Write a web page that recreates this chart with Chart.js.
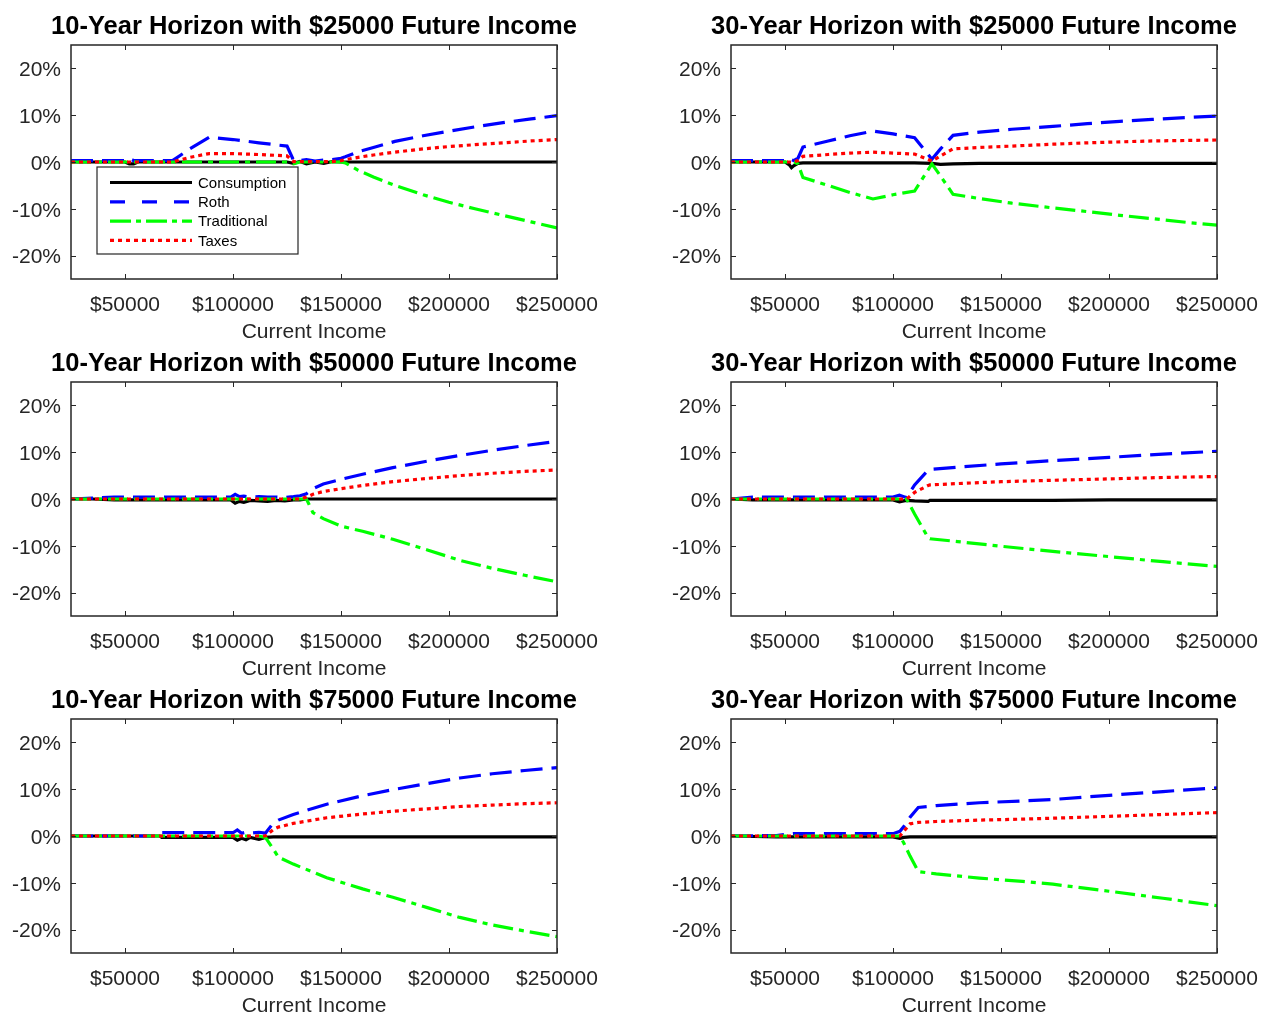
<!DOCTYPE html>
<html>
<head>
<meta charset="utf-8">
<script src="https://cdn.jsdelivr.net/npm/chart.js@4.4.0/dist/chart.umd.min.js"></script>
<style>
  html, body { margin: 0; padding: 0; background: #fff; overflow: hidden; }
  #wrap { position: relative; width: 1262px; height: 1017px; }
  #wrap canvas { position: absolute; }
</style>
</head>
<body>
<div id="wrap"></div>
<script>
// ---- data (percent change vs. income) ----
const xTicks = [50000, 100000, 150000, 200000, 250000];
const yTicks = [-20, -10, 0, 10, 20];
const seriesNames = ['Consumption', 'Roth', 'Traditional', 'Taxes'];

// 10-Year Horizon, $25000 future income
const p1Income      = [25000, 40000, 50000, 52000, 54000, 56000, 65000, 72000, 80000, 89000, 100000, 112000, 125000, 128000, 131000, 134000, 138000, 142000, 146000, 150000, 152000, 158000, 165000, 175000, 188000, 200000, 212000, 225000, 238000, 250000];
const p1Consumption = [0, 0, 0, -0.4, -0.4, 0, 0, 0, 0, 0, 0, 0, 0, -0.3, 0.1, -0.4, 0, -0.3, 0.1, 0, 0, 0, 0, 0, 0, 0, 0, 0, 0, 0];
const p1Roth        = [0.3, 0.3, 0.3, 0.8, 0.3, 0.3, 0.3, 0.3, 2.8, 5.3, 4.8, 4.1, 3.4, 0.4, 0.3, 0.5, 0.2, 0.4, 0.5, 0.8, 1.1, 2.2, 3.1, 4.4, 5.6, 6.6, 7.5, 8.4, 9.2, 9.9];
const p1Traditional = [0, 0, 0, 0, 0, 0, 0, 0, 0, 0, 0, 0, 0, -0.4, 0, 0, 0, 0, 0, 0, -0.2, -1.8, -3.2, -5.0, -7.0, -8.6, -10.0, -11.4, -12.8, -14.1];
const p1Taxes       = [0, 0, 0, 0, 0, 0, 0, 0, 1.0, 1.8, 1.8, 1.6, 1.3, 0.1, 0.1, 0.1, 0.1, 0.1, 0.1, 0.3, 0.5, 1.0, 1.5, 2.1, 2.8, 3.3, 3.7, 4.1, 4.5, 4.8];

// 30-Year Horizon, $25000 future income
const p2Income      = [25000, 40000, 50000, 52000, 53000, 54000, 56000, 58300, 70000, 80000, 90700, 100000, 110000, 118000, 122000, 127800, 140000, 155000, 174000, 190000, 205000, 220000, 236000, 250000];
const p2Consumption = [0, 0, 0, -0.6, -1.2, -0.8, -0.3, -0.2, -0.2, -0.2, -0.2, -0.2, -0.2, -0.3, -0.5, -0.4, -0.3, -0.3, -0.3, -0.3, -0.3, -0.3, -0.3, -0.3];
const p2Roth        = [0.3, 0.3, 0.3, 0.8, 0.5, 0.3, 0.8, 3.2, 4.5, 5.6, 6.6, 6.0, 5.2, 0.6, 2.8, 5.7, 6.4, 7.0, 7.6, 8.2, 8.7, 9.1, 9.5, 9.8];
const p2Traditional = [0, 0, 0, 0, 0, 0, -0.4, -3.3, -5.0, -6.5, -7.9, -7.0, -6.2, -0.4, -3.0, -6.9, -7.8, -8.8, -9.8, -10.6, -11.4, -12.1, -12.9, -13.5];
const p2Taxes       = [0, 0, 0, 0, 0, 0, 0.3, 1.2, 1.6, 1.9, 2.1, 1.9, 1.7, 0.2, 1.3, 2.8, 3.1, 3.4, 3.8, 4.1, 4.3, 4.5, 4.6, 4.7];

// 10-Year Horizon, $50000 future income
const p3Income      = [25000, 35000, 45000, 60000, 80000, 99000, 101000, 103000, 105000, 108000, 112000, 116000, 120000, 124000, 128000, 131000, 134000, 137000, 141800, 150000, 160000, 174000, 190000, 205000, 220000, 235000, 250000];
const p3Consumption = [0, 0, -0.2, -0.2, -0.2, -0.2, -0.9, -0.5, -0.7, -0.3, -0.4, -0.5, -0.3, -0.4, -0.2, -0.2, 0, 0, 0, 0, 0, 0, 0, 0, 0, 0, 0];
const p3Roth        = [0, 0.2, 0.4, 0.4, 0.4, 0.4, 1.0, 0.5, 0.6, 0.4, 0.5, 0.4, 0.4, 0.3, 0.5, 0.7, 1.1, 2.2, 3.2, 4.2, 5.3, 6.7, 8.1, 9.3, 10.4, 11.4, 12.3];
const p3Traditional = [0, 0, 0, 0, 0, 0, 0, 0, 0, 0, 0, 0, 0, 0, 0, 0, 0, -2.9, -4.2, -5.8, -6.9, -8.6, -10.9, -13.1, -14.8, -16.3, -17.7];
const p3Taxes       = [0, 0, 0, 0, 0, 0, 0, 0, 0, 0, 0, 0, 0, 0, 0, 0, 0.4, 1.0, 1.6, 2.2, 2.9, 3.7, 4.4, 5.0, 5.5, 5.9, 6.2];

// 30-Year Horizon, $50000 future income
const p4Income      = [25000, 35000, 45000, 60000, 80000, 100000, 103000, 105000, 106300, 110000, 116300, 117100, 130000, 150000, 174000, 200000, 225000, 250000];
const p4Consumption = [0, -0.2, -0.2, -0.2, -0.2, -0.2, -0.6, -0.4, -0.3, -0.4, -0.5, -0.3, -0.3, -0.3, -0.3, -0.2, -0.2, -0.2];
const p4Roth        = [0, 0.4, 0.4, 0.4, 0.4, 0.4, 0.8, 0.5, 0.3, 3.0, 6.2, 6.3, 6.8, 7.5, 8.2, 8.9, 9.6, 10.2];
const p4Traditional = [0, 0, 0, 0, 0, 0, 0, 0, 0, -3.2, -8.3, -8.5, -9.1, -10.1, -11.2, -12.3, -13.4, -14.4];
const p4Taxes       = [0, 0, 0, 0, 0, 0, 0, 0, 0, 1.4, 2.9, 3.0, 3.3, 3.7, 4.0, 4.3, 4.6, 4.8];

// 10-Year Horizon, $75000 future income
const p5Income      = [25000, 50000, 66000, 67000, 80000, 95000, 100000, 102000, 104000, 106000, 108000, 112000, 115000, 118700, 121000, 127900, 143400, 160000, 174000, 190000, 205000, 220000, 235000, 250000];
const p5Consumption = [0, 0, 0, -0.3, -0.3, -0.3, -0.3, -0.9, -0.5, -0.8, -0.3, -0.7, -0.3, -0.2, -0.2, -0.2, -0.2, -0.2, -0.2, -0.2, -0.2, -0.2, -0.2, -0.2];
const p5Roth        = [0, 0, 0, 0.7, 0.7, 0.7, 0.7, 1.3, 0.6, 0.8, 0.6, 0.8, 0.6, 2.8, 3.4, 4.6, 6.8, 8.6, 9.9, 11.2, 12.4, 13.3, 14.0, 14.6];
const p5Traditional = [0, 0, 0, 0, 0, 0, 0, 0, 0, 0, 0, 0, -0.3, -2.8, -4.5, -6.0, -8.9, -11.3, -13.1, -15.3, -17.4, -19.0, -20.3, -21.5];
const p5Taxes       = [0, 0, 0, 0, 0, 0, 0, 0, 0, 0, 0, 0, 0, 1.4, 1.9, 2.7, 3.9, 4.7, 5.3, 5.8, 6.3, 6.6, 6.9, 7.1];

// 30-Year Horizon, $75000 future income
const p6Income      = [25000, 46000, 53800, 70000, 90000, 100000, 103200, 105000, 107900, 111700, 120000, 140000, 160000, 174000, 200000, 225000, 250000];
const p6Consumption = [0, -0.2, -0.2, -0.2, -0.2, -0.2, -0.5, -0.3, -0.2, -0.2, -0.2, -0.2, -0.2, -0.2, -0.2, -0.2, -0.2];
const p6Roth        = [0, 0.1, 0.5, 0.5, 0.5, 0.5, 1.0, 2.0, 4.0, 6.1, 6.5, 7.1, 7.5, 7.8, 8.7, 9.5, 10.3];
const p6Traditional = [0, 0, 0, 0, 0, 0, 0, -1.5, -4.3, -7.6, -8.1, -9.0, -9.7, -10.3, -11.8, -13.3, -14.9];
const p6Taxes       = [0, 0, 0, 0, 0, 0, 0, 1.0, 2.6, 2.9, 3.1, 3.4, 3.6, 3.8, 4.2, 4.6, 5.0];

// ---- styles ----
const seriesColors = ['#000000', '#0000ff', '#00ff00', '#ff0000'];
const seriesDash   = [[], [22, 9], [20, 6, 5, 6], [4, 4]];
const legendDash   = [[], [15, 17], [21, 5, 5, 5], [4, 4]];
const FONT = '"Liberation Sans", Arial, Helvetica, sans-serif';
const AXIS_COLOR = '#262626';

const panels = [
  { title: '10-Year Horizon with $25000 Future Income', income: p1Income, series: [p1Consumption, p1Roth, p1Traditional, p1Taxes], legend: true },
  { title: '30-Year Horizon with $25000 Future Income', income: p2Income, series: [p2Consumption, p2Roth, p2Traditional, p2Taxes] },
  { title: '10-Year Horizon with $50000 Future Income', income: p3Income, series: [p3Consumption, p3Roth, p3Traditional, p3Taxes] },
  { title: '30-Year Horizon with $50000 Future Income', income: p4Income, series: [p4Consumption, p4Roth, p4Traditional, p4Taxes] },
  { title: '10-Year Horizon with $75000 Future Income', income: p5Income, series: [p5Consumption, p5Roth, p5Traditional, p5Taxes] },
  { title: '30-Year Horizon with $75000 Future Income', income: p6Income, series: [p6Consumption, p6Roth, p6Traditional, p6Taxes] }
];

// box round the axes with inward ticks on all four sides
const matlabBox = {
  id: 'matlabBox',
  afterDatasetsDraw(chart) {
    const { ctx, chartArea: a, scales: { x, y } } = chart;
    ctx.save();
    ctx.strokeStyle = AXIS_COLOR;
    ctx.lineWidth = 1;
    ctx.beginPath();
    x.ticks.forEach(t => {
      const px = Math.round(x.getPixelForValue(t.value)) + 0.5;
      ctx.moveTo(px, a.bottom); ctx.lineTo(px, a.bottom - 5);
      ctx.moveTo(px, a.top); ctx.lineTo(px, a.top + 5);
    });
    y.ticks.forEach(t => {
      const py = Math.round(y.getPixelForValue(t.value)) + 0.5;
      ctx.moveTo(a.left, py); ctx.lineTo(a.left + 5, py);
      ctx.moveTo(a.right, py); ctx.lineTo(a.right - 5, py);
    });
    ctx.stroke();
    ctx.lineWidth = 1.5;
    ctx.strokeRect(a.left, a.top, a.right - a.left, a.bottom - a.top);
    ctx.restore();
  }
};

// title centred over the axes, not squeezed to their width
const axesTitle = {
  id: 'axesTitle',
  afterDraw(chart, args, opts) {
    const { ctx, chartArea: a } = chart;
    ctx.save();
    ctx.font = 'bold 25.5px ' + FONT;
    ctx.fillStyle = '#000';
    ctx.textAlign = 'center';
    ctx.textBaseline = 'middle';
    ctx.fillText(opts.text, (a.left + a.right) / 2, a.top - 18);
    ctx.restore();
  }
};

// legend drawn inside the axes, like the original
const boxLegend = {
  id: 'boxLegend',
  afterDraw(chart, args, opts) {
    if (!opts.show) return;
    const { ctx, chartArea: a } = chart;
    const bx = a.left + 26, by = a.top + 122, bw = 201, bh = 87;
    ctx.save();
    ctx.fillStyle = '#fff';
    ctx.fillRect(bx, by, bw, bh);
    ctx.strokeStyle = AXIS_COLOR;
    ctx.lineWidth = 1.2;
    ctx.strokeRect(bx, by, bw, bh);
    ctx.font = '15px ' + FONT;
    ctx.textBaseline = 'middle';
    chart.data.datasets.forEach((ds, i) => {
      const cy = by + 15.5 + i * 19.3;
      ctx.setLineDash(legendDash[i]);
      ctx.strokeStyle = ds.borderColor;
      ctx.lineWidth = ds.borderWidth;
      ctx.beginPath();
      ctx.moveTo(bx + 13, cy);
      ctx.lineTo(bx + 95, cy);
      ctx.stroke();
      ctx.setLineDash([]);
      ctx.fillStyle = '#000';
      ctx.fillText(ds.label, bx + 101, cy + 1);
    });
    ctx.restore();
  }
};

const wrap = document.getElementById('wrap');

panels.forEach((p, i) => {
  const col = i % 2, row = Math.floor(i / 2);
  const canvas = document.createElement('canvas');
  canvas.width = 631;
  canvas.height = 339;
  canvas.style.left = (col * 631) + 'px';
  canvas.style.top = (8 + row * 337) + 'px';
  wrap.appendChild(canvas);

  const datasets = seriesNames.map((name, k) => ({
    label: name,
    data: p.income.map((x, j) => ({ x: x, y: p.series[k][j] })),
    borderColor: seriesColors[k],
    borderDash: seriesDash[k],
    borderWidth: 3.2,
    borderCapStyle: 'butt',
    pointRadius: 0,
    fill: false,
    tension: 0,
    order: 4 - k
  }));

  new Chart(canvas.getContext('2d'), {
    type: 'line',
    data: { datasets: datasets },
    options: {
      responsive: false,
      animation: false,
      devicePixelRatio: 1,
      layout: { padding: { left: col ? 29 : 0, right: col ? 45 : 74, top: 37, bottom: 0 } },
      plugins: {
        legend: { display: false },
        tooltip: { enabled: false },
        title: { display: false },
        axesTitle: { text: p.title },
        boxLegend: { show: !!p.legend }
      },
      scales: {
        x: {
          type: 'linear',
          min: 25000,
          max: 250000,
          afterBuildTicks: s => { s.ticks = xTicks.map(v => ({ value: v })); },
          afterFit: s => { s.height = 68; s.paddingLeft = 0; s.paddingRight = 0; },
          grid: { display: false, drawTicks: false },
          border: { display: false },
          ticks: {
            callback: v => '$' + v,
            color: AXIS_COLOR,
            font: { family: FONT, size: 21 },
            padding: 14,
            maxRotation: 0,
            autoSkip: false
          },
          title: {
            display: true,
            text: 'Current Income',
            color: AXIS_COLOR,
            font: { family: FONT, size: 21 },
            padding: { top: 0, bottom: 2 }
          }
        },
        y: {
          min: -25,
          max: 25,
          afterBuildTicks: s => { s.ticks = yTicks.map(v => ({ value: v })); },
          afterFit: s => { s.width = 71; s.paddingTop = 0; s.paddingBottom = 0; },
          grid: { display: false, drawTicks: false },
          border: { display: false },
          ticks: {
            callback: v => v + '%',
            color: AXIS_COLOR,
            font: { family: FONT, size: 21 },
            padding: 10,
            labelOffset: 2,
            autoSkip: false
          }
        }
      }
    },
    plugins: [matlabBox, axesTitle, boxLegend]
  });
});
</script>
</body>
</html>
